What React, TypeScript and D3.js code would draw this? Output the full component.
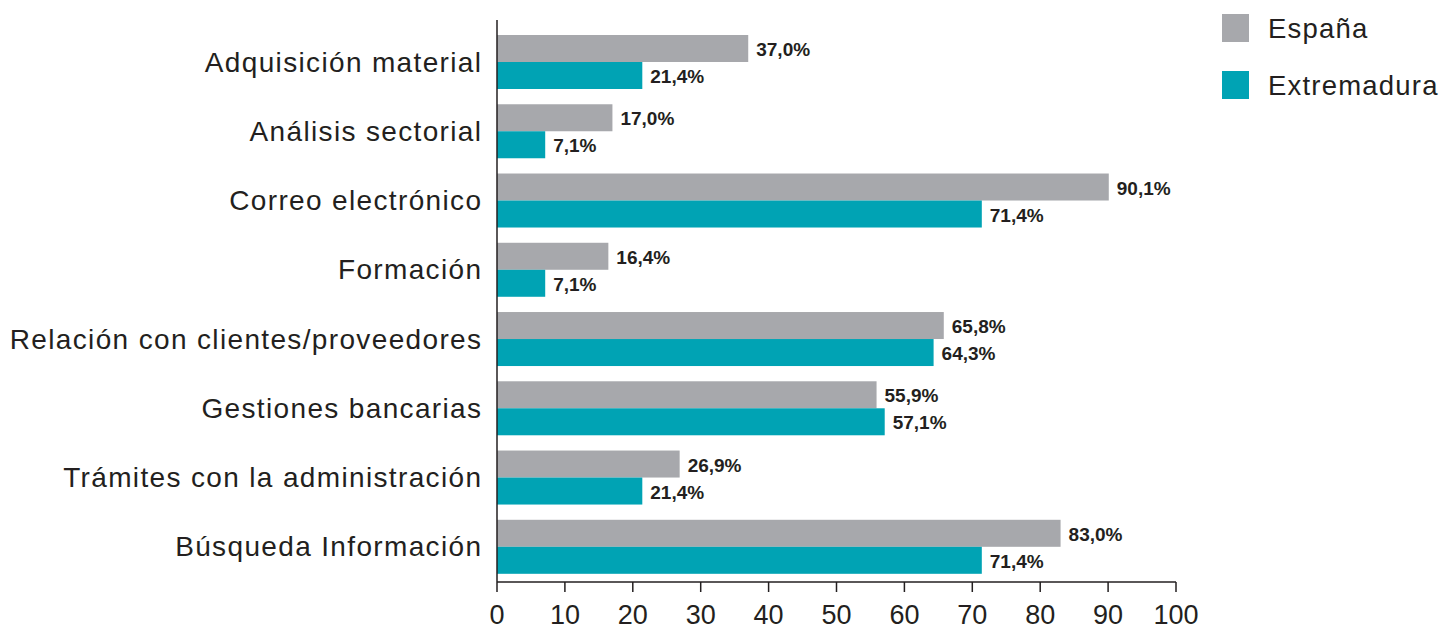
import React from "react";
import * as d3 from "d3";

const categories = [
  "Adquisición material",
  "Análisis sectorial",
  "Correo electrónico",
  "Formación",
  "Relación con clientes/proveedores",
  "Gestiones bancarias",
  "Trámites con la administración",
  "Búsqueda Información",
];
const espana = [37.0, 17.0, 90.1, 16.4, 65.8, 55.9, 26.9, 83.0];
const extremadura = [21.4, 7.1, 71.4, 7.1, 64.3, 57.1, 21.4, 71.4];
const seriesNames = ["España", "Extremadura"];
const seriesColors = ["#a7a8ac", "#00a3b4"];
const ticks = [0, 10, 20, 30, 40, 50, 60, 70, 80, 90, 100];

const W = 1449;
const H = 630;
const fmt = (v: number) => v.toFixed(1).replace(".", ",") + "%";

export default function App() {
  const x = d3.scaleLinear().domain([0, 100]).range([497, 1176]);
  const y = d3
    .scaleBand<string>()
    .domain(categories)
    .range([27.4, 581.4])
    .paddingInner(15.25 / 69.25)
    .paddingOuter(7.6 / 69.25);
  const inner = d3.scaleBand<number>().domain([0, 1]).range([0, y.bandwidth()]);
  const series = [espana, extremadura];
  const axisY = 582;
  const textColor = "#231f20";

  return (
    <svg
      width={W}
      height={H}
      style={{ position: "absolute", left: 0, top: 0 }}
      fontFamily="'Liberation Sans', Arial, sans-serif"
    >
      <rect width={W} height={H} fill="#fff" />
      {categories.map((c, i) => {
        const y0 = y(c)!;
        return (
          <g key={c}>
            <text
              x={481 + 1.35}
              y={y0 + y.bandwidth() / 2}
              textAnchor="end"
              dominantBaseline="central"
              fontSize={28}
              letterSpacing={1.35}
              fill={textColor}
            >
              {c}
            </text>
            {series.map((s, j) => {
              const by = y0 + inner(j)!;
              const bh = inner.bandwidth();
              return (
                <g key={j}>
                  <rect
                    x={x(0)}
                    y={by}
                    width={x(s[i]) - x(0)}
                    height={bh}
                    fill={seriesColors[j]}
                  />
                  <text
                    x={x(s[i]) + 8}
                    y={by + bh / 2 + 1}
                    dominantBaseline="central"
                    fontSize={19}
                    fontWeight="bold"
                    fill={textColor}
                  >
                    {fmt(s[i])}
                  </text>
                </g>
              );
            })}
          </g>
        );
      })}
      <line x1={x(0)} x2={x(0)} y1={20} y2={axisY} stroke={textColor} strokeWidth={1.5} />
      <line x1={x(0)} x2={x(100)} y1={axisY} y2={axisY} stroke={textColor} strokeWidth={1.5} />
      {ticks.map((t) => (
        <g key={t}>
          <line x1={x(t)} x2={x(t)} y1={axisY} y2={axisY + 10} stroke={textColor} strokeWidth={1.5} />
          <text
            x={x(t)}
            y={624}
            textAnchor="middle"
            fontSize={27}
            fill={textColor}
            fontFamily="'Liberation Sans Narrow', 'Liberation Sans', Arial, sans-serif"
          >
            {t}
          </text>
        </g>
      ))}
      {seriesNames.map((n, j) => (
        <g key={n}>
          <rect x={1222} y={14 + j * 57} width={27} height={28} fill={seriesColors[j]} />
          <text
            x={1268}
            y={28 + j * 57}
            dominantBaseline="central"
            fontSize={27.5}
            letterSpacing={1.2}
            fill={textColor}
          >
            {n}
          </text>
        </g>
      ))}
    </svg>
  );
}
